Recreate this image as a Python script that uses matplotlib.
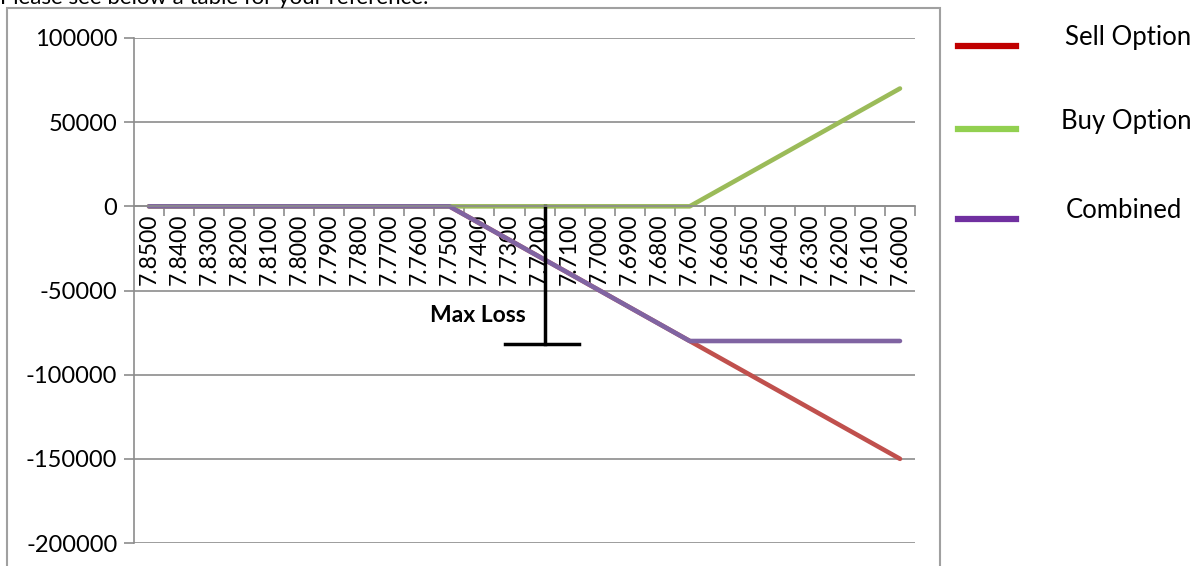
import matplotlib
matplotlib.use("Agg")
import matplotlib.pyplot as plt
from matplotlib.lines import Line2D
from matplotlib.patches import Rectangle

plt.rcParams["font.family"] = ["Lato", "DejaVu Sans"]

# exchange rate scenarios and payoff per scenario
rates = ["7.8500", "7.8400", "7.8300", "7.8200", "7.8100", "7.8000", "7.7900",
         "7.7800", "7.7700", "7.7600", "7.7500", "7.7400", "7.7300", "7.7200",
         "7.7100", "7.7000", "7.6900", "7.6800", "7.6700", "7.6600", "7.6500",
         "7.6400", "7.6300", "7.6200", "7.6100", "7.6000"]
sell_option = [0, 0, 0, 0, 0, 0, 0, 0, 0, 0, 0, -10000, -20000, -30000, -40000,
               -50000, -60000, -70000, -80000, -90000, -100000, -110000,
               -120000, -130000, -140000, -150000]
buy_option = [0, 0, 0, 0, 0, 0, 0, 0, 0, 0, 0, 0, 0, 0, 0, 0, 0, 0, 0,
              10000, 20000, 30000, 40000, 50000, 60000, 70000]
combined = [0, 0, 0, 0, 0, 0, 0, 0, 0, 0, 0, -10000, -20000, -30000, -40000,
            -50000, -60000, -70000, -80000, -80000, -80000, -80000, -80000,
            -80000, -80000, -80000]
max_loss = -80000
yticks = [100000, 50000, 0, -50000, -100000, -150000, -200000]

W, H = 1196, 566
fig = plt.figure(figsize=(W / 100, H / 100), dpi=100)

# outer chart frame, runs off the bottom edge
fig.patches.append(Rectangle((7 / W, -0.05), (940 - 7) / W, 1.05 - 8 / H,
                             transform=fig.transFigure, fill=False,
                             edgecolor="#a0a0a0", linewidth=1.5))
fig.text(0.0, 1 - 4 / H, "Please see below a table for your reference:",
         fontsize=16, va="baseline", ha="left", color="black")

ax = fig.add_axes([134 / W, (H - 543) / H, (915 - 134) / W, (543 - 38) / H])
x = list(range(len(rates)))

ax.plot(x, sell_option, color="#c0504d", linewidth=3.3, solid_capstyle="round")
ax.plot(x, buy_option, color="#9bbb59", linewidth=3.3, solid_capstyle="round")
ax.plot(x, combined, color="#8064a2", linewidth=3.3, solid_capstyle="round")

ax.set_xlim(-0.5, len(rates) - 0.5)
ax.set_ylim(-200000, 100000)
ax.set_yticks(yticks)
ax.set_yticklabels([str(v) for v in yticks], fontsize=17)
ax.yaxis.grid(True, color="#8c8c8c", linewidth=1.2)
ax.set_axisbelow(True)

for s in ["top", "right"]:
    ax.spines[s].set_visible(False)
ax.spines["left"].set_color("#8c8c8c")
ax.spines["left"].set_linewidth(1.2)
ax.spines["bottom"].set_position(("data", 0))
ax.spines["bottom"].set_color("#8c8c8c")
ax.spines["bottom"].set_linewidth(1.2)

ax.set_xticks(x)
ax.set_xticklabels(rates, rotation=90, fontsize=16.5, va="top")
ax.set_xticks([i + 0.5 for i in x], minor=True)
ax.tick_params(axis="x", which="major", length=0, pad=5)
ax.tick_params(axis="x", which="minor", length=7, color="#8c8c8c", width=1.2)
ax.tick_params(axis="y", length=7, color="#8c8c8c", width=1.2, pad=5)

# max loss marker
mx = 13.17
ax.plot([mx, mx], [0, max_loss - 1500], color="black", linewidth=2.5)
ax.plot([11.84, 14.3], [max_loss - 1500, max_loss - 1500], color="black",
        linewidth=2.5)
ax.text(10.94, -65000, "Max Loss", fontsize=16.5, fontweight="bold",
        ha="center", va="center")

# legend drawn beside the frame
names = ["Sell Option", "Buy Option", "Combined"]
legend_colors = ["#c00000", "#92d050", "#7030a0"]
line_y = [46, 129, 219]
text_x = [1065, 1061, 1066]
text_y = [38, 121, 211]
for name, c, ly, tx, ty in zip(names, legend_colors, line_y, text_x, text_y):
    fig.add_artist(Line2D([958 / W, 1016 / W], [1 - ly / H, 1 - ly / H],
                          color=c, linewidth=4.5, transform=fig.transFigure))
    fig.text(tx / W, 1 - ty / H, name, fontsize=18.5, va="center", ha="left")

fig.savefig("out.png", dpi=100)
